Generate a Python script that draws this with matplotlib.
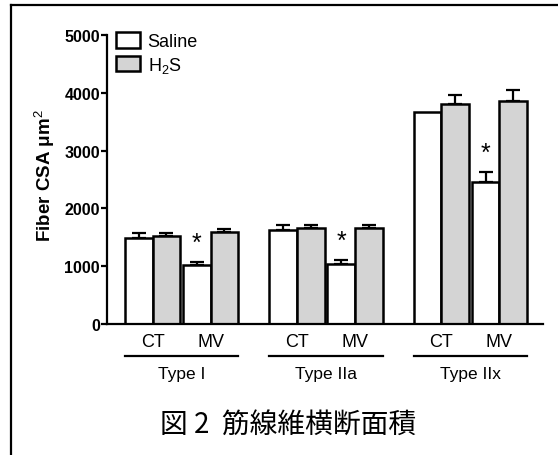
import matplotlib
matplotlib.use("Agg")
import matplotlib.pyplot as plt
import numpy as np
from matplotlib.lines import Line2D
from matplotlib.patches import Patch

fiber_types = ["Type I", "Type IIa", "Type IIx"]
conditions = ["CT", "MV"]

saline_ct = [1490, 1625, 3665]
saline_ct_err = [80, 85, 0]
h2s_ct = [1520, 1660, 3805]
h2s_ct_err = [52, 50, 150]
saline_mv = [1020, 1040, 2455]
saline_mv_err = [50, 60, 170]
h2s_mv = [1590, 1660, 3860]
h2s_mv_err = [50, 50, 190]

y_ticks = [0, 1000, 2000, 3000, 4000, 5000]
caption = "図 2  筋線維横断面積"

plt.rcParams['font.family'] = ['Liberation Sans', 'Noto Sans CJK JP', 'DejaVu Sans']
plt.rcParams['mathtext.fontset'] = 'custom'
plt.rcParams['mathtext.rm'] = 'Liberation Sans'
plt.rcParams['mathtext.it'] = 'Liberation Sans:italic'
plt.rcParams['mathtext.bf'] = 'Liberation Sans:bold'

W, H = 558, 456
fig = plt.figure(figsize=(W / 100, H / 100), dpi=100)
ax = fig.add_axes([107 / W, (H - 325) / H, (543 - 107) / W, 289 / H])

group_gap = 5.23
bar_w = 1.0
pos = {
    "saline_ct": 0.0,
    "h2s_ct": 1.0,
    "saline_mv": 2.1,
    "h2s_mv": 3.1,
}
base = np.arange(len(fiber_types)) * group_gap

white = "white"
grey = "#d4d4d4"
edge_lw = 1.8

series = [
    ("saline_ct", saline_ct, saline_ct_err, white),
    ("h2s_ct", h2s_ct, h2s_ct_err, grey),
    ("saline_mv", saline_mv, saline_mv_err, white),
    ("h2s_mv", h2s_mv, h2s_mv_err, grey),
]

for key, vals, errs, col in series:
    x = base + pos[key]
    errs = np.array(errs)
    show = errs > 0
    ax.errorbar(x[show], np.array(vals)[show],
                yerr=[np.zeros(show.sum()), errs[show]],
                fmt='none', ecolor='black', elinewidth=1.6,
                capsize=5, capthick=1.6, zorder=1)
    ax.bar(x, vals, width=bar_w, color=col, edgecolor='black',
           linewidth=edge_lw, zorder=2)

# significance stars above saline MV bars
for i in range(len(fiber_types)):
    ytop = saline_mv[i] + saline_mv_err[i]
    ax.text(base[i] + pos["saline_mv"], ytop + 330, "*",
            ha='center', va='center', fontsize=18, zorder=3)

ax.set_xlim(-1.15, base[-1] + pos["h2s_mv"] + 0.5 + 0.58)
ax.set_ylim(0, 5000)
ax.set_yticks(y_ticks)
ax.set_yticklabels([str(t) for t in y_ticks], fontweight='bold', fontsize=11.5)
ax.set_xticks([])

for s in ['top', 'right']:
    ax.spines[s].set_visible(False)
ax.spines['left'].set_linewidth(1.6)
ax.spines['bottom'].set_linewidth(1.6)
ax.tick_params(axis='y', length=4, width=1.6, pad=1)

ax.set_ylabel("Fiber CSA μm$^2$", fontweight='bold', fontsize=13.5)
ax.yaxis.set_label_coords((57 - 107) / 436, (325 - 176) / 289)

# condition labels, group lines, fiber type labels
trans = ax.get_xaxis_transform()
for i, name in enumerate(fiber_types):
    ct_c = base[i] + (pos["saline_ct"] + pos["h2s_ct"]) / 2
    mv_c = base[i] + (pos["saline_mv"] + pos["h2s_mv"]) / 2
    ax.text(ct_c, -0.062, conditions[0], transform=trans, ha='center', va='center',
            fontsize=13, clip_on=False)
    ax.text(mv_c, -0.062, conditions[1], transform=trans, ha='center', va='center',
            fontsize=13, clip_on=False)
    left = base[i] + pos["saline_ct"] - bar_w / 2
    right = base[i] + pos["h2s_mv"] + bar_w / 2
    ax.add_line(Line2D([left, right], [-0.111, -0.111], transform=trans,
                       color='black', linewidth=1.6, clip_on=False))
    ax.text((left + right) / 2, -0.173, name, transform=trans, ha='center',
            va='center', fontsize=12.5, clip_on=False)

handles = [Patch(facecolor=white, edgecolor='black', linewidth=edge_lw),
           Patch(facecolor=grey, edgecolor='black', linewidth=edge_lw)]
fig.legend(handles, ["Saline", "H$_2$S"], loc='upper left',
           bbox_to_anchor=(116 / W, 1 - 33 / H), frameon=False,
           fontsize=13, handlelength=1.35, handleheight=0.95,
           handletextpad=0.4, labelspacing=0.25, borderpad=0, borderaxespad=0)

fig.text(288 / W, 1 - 425 / H, caption, ha='center', va='center', fontsize=20,
         family=['Noto Sans CJK JP', 'DejaVu Sans'])

# frame lines of the surrounding cell
fig.add_artist(Line2D([10.5 / W, 1], [1 - 6 / H, 1 - 6 / H], transform=fig.transFigure,
                      color='black', linewidth=1.6))
fig.add_artist(Line2D([10.5 / W, 10.5 / W], [0, 1 - 6 / H], transform=fig.transFigure,
                      color='black', linewidth=1.6))

fig.savefig("out.png", dpi=100)
